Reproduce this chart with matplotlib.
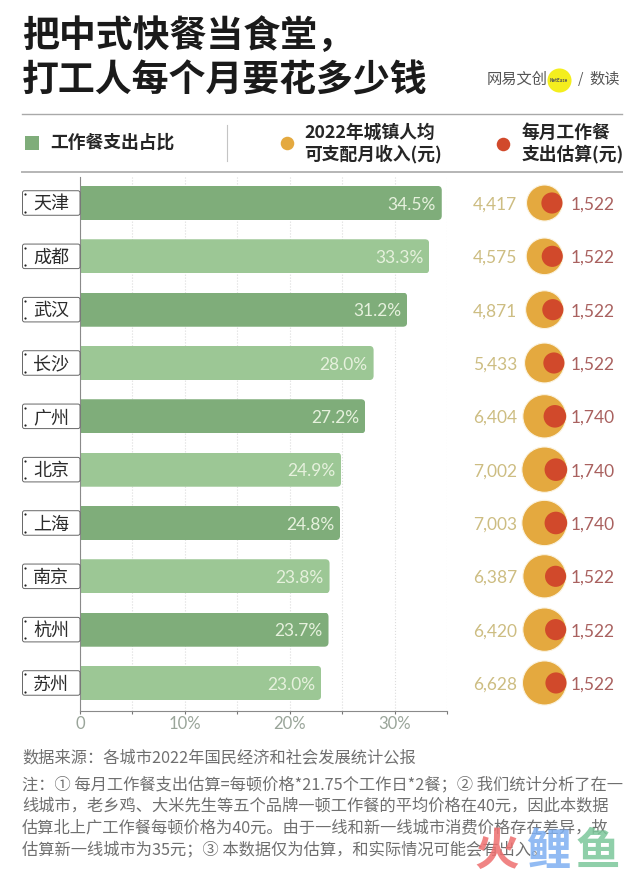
import matplotlib
matplotlib.use('Agg')
import matplotlib.pyplot as plt
from matplotlib.patches import FancyBboxPatch, Rectangle
from matplotlib.transforms import blended_transform_factory
import numpy as np

plt.rcParams['font.family'] = ['Noto Sans CJK SC', 'DejaVu Sans']

cities = ['天津', '成都', '武汉', '长沙', '广州', '北京', '上海', '南京', '杭州', '苏州']
share = [34.5, 33.3, 31.2, 28.0, 27.2, 24.9, 24.8, 23.8, 23.7, 23.0]
income = [4417, 4575, 4871, 5433, 6404, 7002, 7003, 6387, 6420, 6628]
meal_cost = [1522, 1522, 1522, 1522, 1740, 1740, 1740, 1522, 1522, 1522]
xticks = [0, 10, 20, 30]
xticklabels = ['0', '10%', '20%', '30%']

GREEN_D = '#7fad7a'
GREEN_L = '#9cc795'
GOLD = '#e4a93f'
RED = '#d1492b'
GREY = '#6f6f6f'

W, H = 640, 875
fig = plt.figure(figsize=(W / 100, H / 100), dpi=100, facecolor='white')

# overlay in pixel coords for the header / footer stuff
bg = fig.add_axes([0, 0, 1, 1])
bg.set_xlim(0, W)
bg.set_ylim(H, 0)
bg.axis('off')

# title
bg.text(22, 36, '把中式快餐当食堂，', fontsize=26.6, fontweight='bold', color='#1a1a1a', va='center')
bg.text(22, 81, '打工人每个月要花多少钱', fontsize=26.6, fontweight='bold', color='#1a1a1a', va='center')

# logo
bg.scatter([559], [80], s=300, color='#f4ee1e', linewidths=0, zorder=2)
bg.text(487, 79, '网易文创', fontsize=11, color='#555555', va='center', zorder=3)
bg.text(559, 80, 'NetEase', fontsize=3.2, color='#555555', va='center', ha='center', fontweight='bold', zorder=3)
bg.text(581, 79, '/', fontsize=10, color='#555555', va='center', ha='center', zorder=3)
bg.text(589, 79, '数读', fontsize=11, color='#555555', va='center', zorder=3)

# legend band
bg.plot([22, 622], [114, 114], color='#a9a9a9', lw=1)
bg.plot([22, 622], [172, 172], color='#b5b5b5', lw=1.4)
bg.plot([227, 227], [125, 161], color='#c4c4c4', lw=0.8)
bg.add_patch(Rectangle((25, 136), 14, 14, color=GREEN_D, lw=0))
bg.text(50, 143, '工作餐支出占比', fontsize=12.8, fontweight='bold', color='#262626', va='center')
bg.scatter([287], [143], s=95, color=GOLD, linewidths=0)
bg.text(304, 133, '2022年城镇人均', fontsize=12.8, fontweight='bold', color='#262626', va='center')
bg.text(304, 154, '可支配月收入(元)', fontsize=12.8, fontweight='bold', color='#262626', va='center')
bg.scatter([503], [144], s=95, color=RED, linewidths=0)
bg.text(522, 133, '每月工作餐', fontsize=12.8, fontweight='bold', color='#262626', va='center')
bg.text(522, 154, '支出估算(元)', fontsize=12.8, fontweight='bold', color='#262626', va='center')

# footer
bg.text(22, 758, '数据来源：各城市2022年国民经济和社会发展统计公报', fontsize=11.7, color=GREY, va='center')
notes = ['注：① 每月工作餐支出估算=每顿价格*21.75个工作日*2餐；② 我们统计分析了在一',
         '线城市，老乡鸡、大米先生等五个品牌一顿工作餐的平均价格在40元，因此本数据',
         '估算北上广工作餐每顿价格为40元。由于一线和新一线城市消费价格存在差异，故',
         '估算新一线城市为35元；③ 本数据仅为估算，和实际情况可能会有出入。']
for y, line in zip([785, 806, 828, 850], notes):
    bg.text(22, y, line, fontsize=11.7, color=GREY, va='center')

# watermark
for x, ch, c in zip([497, 548, 598], '火鲤鱼', ['#ee6f6f', '#7fb0f2', '#7cc79a']):
    bg.text(x, 852, ch, fontsize=32, fontweight='bold', color=c, alpha=0.85, ha='center', va='center', zorder=5)

# bar axes: x 0% at px 80, 35% at px 447 ; rows 53.33 px apart
y = np.arange(len(cities))
y0, step = 203, 53.33
top, bottom = (177 - y0) / step, (711 - y0) / step
ax = fig.add_axes([80 / W, 1 - 711 / H, (447 - 80) / W, (711 - 177) / H])
ax.patch.set_alpha(0)
ax.set_xlim(0, 35)
ax.set_ylim(bottom, top)

colors = [GREEN_D if i % 2 == 0 else GREEN_L for i in y]
bars = ax.barh(y, share, height=0.64, color=colors, zorder=2)
for bar, v, i in zip(bars, share, y):
    clip = FancyBboxPatch((-1, i - 0.32), v + 1, 0.64, boxstyle='round,pad=0,rounding_size=0.4',
                          mutation_aspect=0.2, transform=ax.transData)
    bar.set_clip_path(clip)
    ax.text(v - 0.55, i + 0.03, f'{v:.1f}%', color='#e6f1dd', fontsize=12.5, family='Lato',
            ha='right', va='center', zorder=3)

ax.set_xticks(xticks)
ax.set_xticklabels(xticklabels, family='Lato', fontsize=12, color='#9aa59a')
ax.set_xticks([5, 15, 25, 35], minor=True)
ax.tick_params(axis='x', which='major', length=2, width=0.8, color='#777777', pad=1.5)
ax.tick_params(axis='x', which='minor', length=2, width=0.8, color='#777777')
ax.set_yticks([])
ax.grid(axis='x', which='both', color='#dcdcdc', lw=0.8, ls=':', zorder=0)
ax.set_axisbelow(True)
for s in ['top', 'right']:
    ax.spines[s].set_visible(False)
ax.spines['left'].set_color('#8a8a8a')
ax.spines['bottom'].set_color('#8a8a8a')
ax.spines['left'].set_linewidth(0.8)
ax.spines['bottom'].set_linewidth(0.8)

# x in figure pixels, y in rows
trans = blended_transform_factory(bg.transData, ax.transData)

# city tags
for i, city in zip(y, cities):
    tag = FancyBboxPatch((22.5, i - 0.23), 57.5, 0.46, boxstyle='round,pad=0,rounding_size=2',
                         mutation_aspect=0.019, transform=trans, fc='white', ec='#666666',
                         lw=0.7, clip_on=False, zorder=4)
    ax.add_patch(tag)
    ax.scatter([24.5, 24.5], [i - 0.16, i + 0.16], s=2.5, color='#222222', transform=trans,
               clip_on=False, zorder=5, linewidths=0)
    ax.text(51, i + 0.03, city, fontsize=13, color='#2b2b2b', fontweight='medium', ha='center', va='center',
            transform=trans, zorder=5, clip_on=False)

# circles, area follows the value
px2 = 36.0 ** 2 / income[0]
inc = np.array(income, dtype=float)
cost = np.array(meal_cost, dtype=float)
d_inc = np.sqrt(inc * px2)
d_cost = np.sqrt(cost * px2)
x_inc = np.full(len(inc), 544.5)
x_cost = x_inc + d_inc / 2 - d_cost / 2
ax.scatter(x_inc, y, s=(d_inc * 0.72) ** 2, color=GOLD, edgecolors='#fbf3e0', linewidths=0.8,
           transform=trans, clip_on=False, zorder=3)
ax.scatter(x_cost, y, s=(d_cost * 0.72) ** 2, color=RED, linewidths=0,
           transform=trans, clip_on=False, zorder=4)
for i, a, b in zip(y, income, meal_cost):
    ax.text(517, i + 0.03, f'{a:,}', family='Lato', fontsize=12.5, color='#cdbd82', ha='right', va='center',
            transform=trans, clip_on=False)
    ax.text(571, i + 0.03, f'{b:,}', family='Lato', fontsize=12.5, color='#a9615f', ha='left', va='center',
            transform=trans, clip_on=False)

fig.savefig('out.png', dpi=100)
